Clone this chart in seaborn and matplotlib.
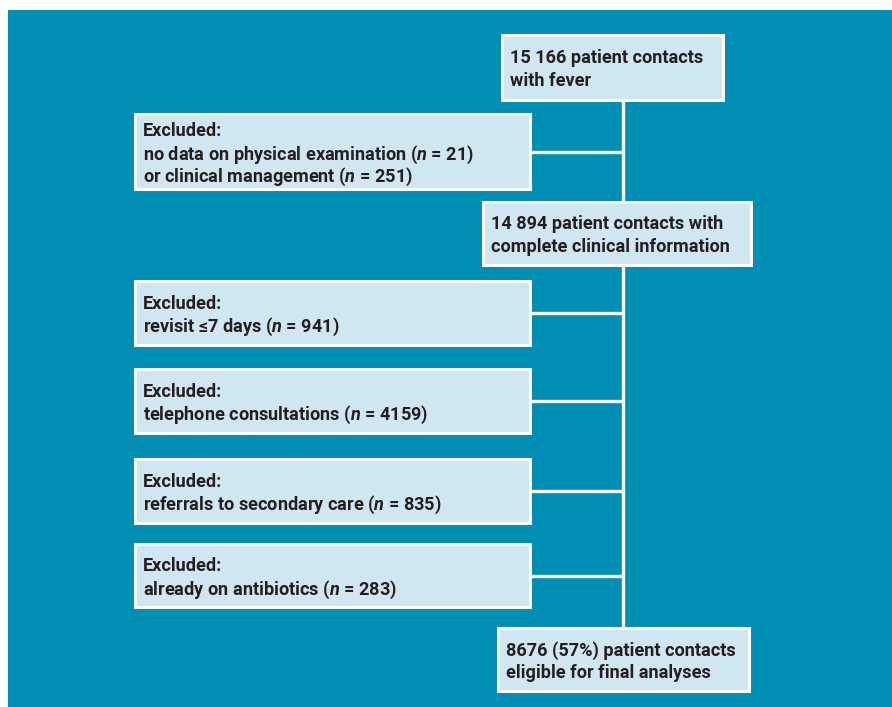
import numpy as np
import matplotlib.pyplot as plt
import seaborn as sns
from matplotlib.patches import Rectangle

# Counts shown in the flow chart
n_total = 15166
n_no_exam = 21
n_no_mgmt = 251
n_complete = 14894
n_revisit = 941
n_phone = 4159
n_referral = 835
n_antibiotics = 283
n_final = 8676
pct_final = 57


def fmt(n):
    return f"{n:,}".replace(",", " ")


# Text of each box, one entry per line
main_texts = [
    [f"{fmt(n_total)} patient contacts", "with fever"],
    [f"{fmt(n_complete)} patient contacts with", "complete clinical information"],
    [f"{n_final} ({pct_final}%) patient contacts", "eligible for final analyses"],
]
excl_texts = [
    ["Excluded:", f"no data on physical examination ($n$ = {n_no_exam})",
     f"or clinical management ($n$ = {n_no_mgmt})"],
    ["Excluded:", f"revisit \u22647 days ($n$ = {n_revisit})"],
    ["Excluded:", f"telephone consultations ($n$ = {n_phone})"],
    ["Excluded:", f"referrals to secondary care ($n$ = {n_referral})"],
    ["Excluded:", f"already on antibiotics ($n$ = {n_antibiotics})"],
]

# Layout in pixel coordinates (x0, y0, x1, y1)
main_boxes = [(502, 35, 723, 100), (483, 202, 751, 265), (498, 628, 749, 691)]
excl_boxes = [(135, 114, 530, 189), (135, 281, 530, 345), (135, 369, 530, 433),
              (135, 459, 530, 523), (135, 544, 530, 607)]
spine_x = 623

bg = "#008FB4"
box_fc = "#D0E7F1"
ink = "#231F20"

sns.set_theme(style="white")
plt.rcParams['font.family'] = ['Roboto', 'DejaVu Sans']
plt.rcParams['mathtext.fontset'] = 'custom'
plt.rcParams['mathtext.it'] = 'Roboto:italic:bold'
plt.rcParams['mathtext.rm'] = 'Roboto:bold'

fig = plt.figure(figsize=(8.92, 7.07), dpi=100)
ax = fig.add_axes([0, 0, 1, 1])
ax.set_xlim(0, 892)
ax.set_ylim(707, 0)
ax.axis("off")

ax.add_patch(Rectangle((8, 10), 900, 720, facecolor=bg, edgecolor="none", zorder=0))

# connectors
ax.plot([spine_x, spine_x], [100, 628], color="white", lw=2.4, zorder=1,
        solid_capstyle="butt")
for x0, y0, x1, y1 in excl_boxes:
    yc = (y0 + y1) / 2
    ax.plot([x1, spine_x], [yc, yc], color="white", lw=2.4, zorder=1,
            solid_capstyle="butt")

line_gap = 22.5


def draw_box(box, lines, pad):
    x0, y0, x1, y1 = box
    ax.add_patch(Rectangle((x0, y0), x1 - x0, y1 - y0, facecolor=box_fc,
                           edgecolor="white", lw=2.2, zorder=2))
    yc = (y0 + y1) / 2
    k = len(lines)
    for i, s in enumerate(lines):
        y = yc + (i - (k - 1) / 2) * line_gap
        ax.text(x0 + pad, y, s, ha="left", va="center_baseline", fontsize=13.1,
                fontweight="bold", color=ink, zorder=3)


for box, lines in zip(main_boxes, main_texts):
    draw_box(box, lines, 8)
for box, lines in zip(excl_boxes, excl_texts):
    draw_box(box, lines, 8)

fig.savefig("out.png", dpi=100)
